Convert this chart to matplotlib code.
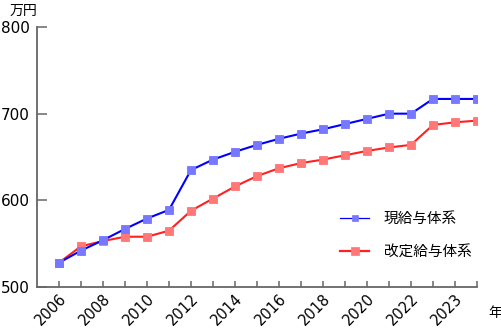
import matplotlib.pyplot as plt
from matplotlib.lines import Line2D

plt.rcParams['font.family'] = ['Noto Sans CJK JP', 'DejaVu Sans']

# data
years = ['2006', '', '2008', '', '2010', '', '2012', '', '2014', '',
         '2016', '', '2018', '', '2020', '', '2022', '', '2023', '']
current = [528, 542, 554, 567, 579, 589, 635, 647, 656, 664,
           671, 677, 682, 688, 694, 700, 700, 717, 717, 717]
revised = [528, 547, 553, 558, 558, 565, 588, 602, 616, 628,
           637, 643, 647, 652, 657, 661, 664, 687, 690, 692]

x = list(range(len(years)))

fig = plt.figure(figsize=(5.02, 3.30), dpi=100)
ax = fig.add_axes([37 / 502, 1 - 287 / 330, 440 / 502, 260 / 330])

# red first so blue sits on top
ax.plot(x, revised, color='#ff2020', lw=1.5, marker='s', ms=5.6, mew=0.6,
        mfc='#ff7777', mec='#ff7777')
ax.plot(x, current, color='#0000ff', lw=1.5, marker='s', ms=5.6, mew=0.6,
        mfc='#7777ff', mec='#7777ff')

ax.set_xlim(-1, len(years) - 1)
ax.set_ylim(500, 800)
ax.set_yticks([500, 600, 700, 800])
ax.set_xticks(x)
ax.set_xticklabels(years, rotation=45, ha='right', rotation_mode='anchor',
                   fontsize=10.5, family='DejaVu Sans')
ax.tick_params(axis='y', direction='in', length=7.5, width=1.1, color='#666666',
               labelsize=11, pad=5)
ax.tick_params(axis='x', direction='in', length=4, width=1.1, color='#666666', pad=3)
for lab in ax.get_yticklabels():
    lab.set_family('DejaVu Sans')

for side in ['top', 'right']:
    ax.spines[side].set_visible(False)
for side in ['left', 'bottom']:
    ax.spines[side].set_color('#666666')
    ax.spines[side].set_linewidth(1.3)

# unit labels
fig.text(10 / 502, 1 - 11 / 330, '万円', fontsize=10, va='center', ha='left')
fig.text(488 / 502, 1 - 313 / 330, '年', fontsize=10, va='center', ha='left')

# legend
handles = [
    Line2D([], [], color='#0000ff', lw=0.9, marker='s', ms=5, mew=0.5,
           mfc='#7777ff', mec='#7777ff'),
    Line2D([], [], color='#ff2020', lw=1.6, marker='s', ms=6, mew=0.5,
           mfc='#ff7777', mec='#ff7777'),
]
ax.legend(handles, ['現給与体系', '改定給与体系'], loc='upper left',
          bbox_to_anchor=(290 / 440, 1 - 172 / 260), frameon=False,
          fontsize=10.5, handlelength=2.0, labelspacing=1.3, handletextpad=1.0)

plt.savefig('out.png', dpi=100)
